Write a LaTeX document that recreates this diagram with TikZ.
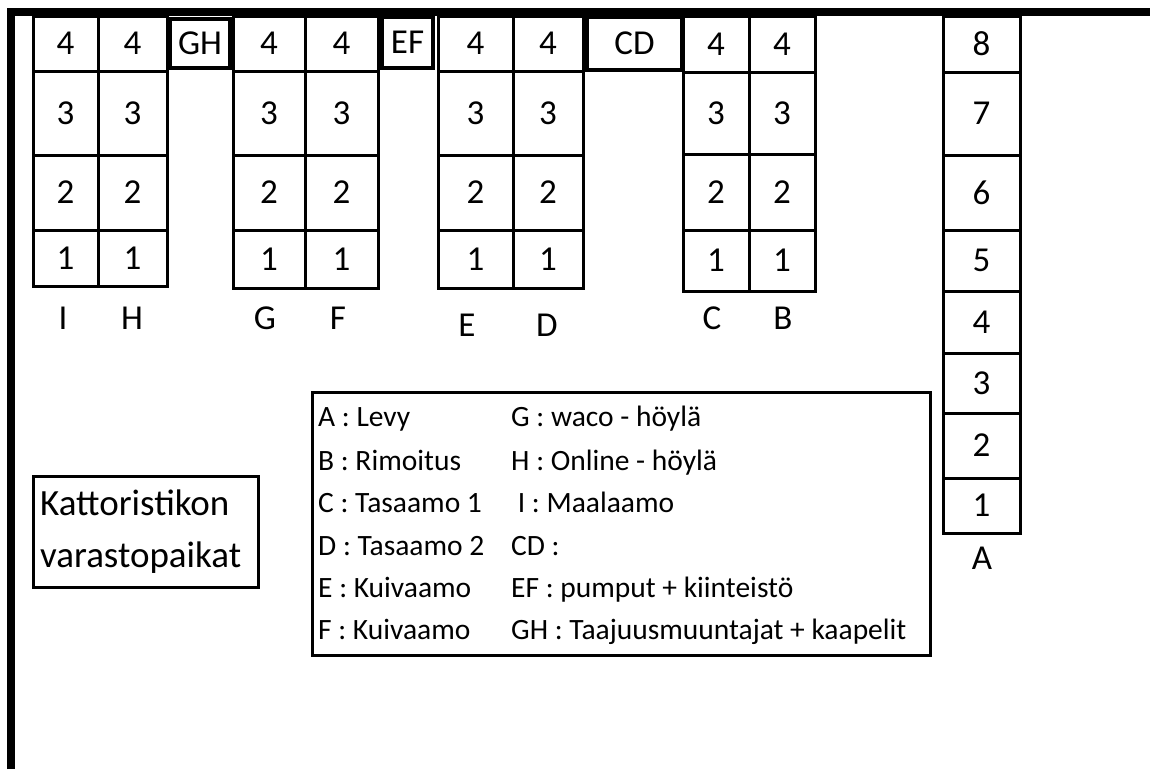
\documentclass[tikz,border=0pt]{standalone}
\usepackage{fontspec}
\setmainfont{Carlito}
\newcommand\cellbox[6]{\node[cell,minimum width={#4-#2},minimum height={#5-#3}] (#1) at ({(#2+#4)/2},{(#3+#5)/2}) {#6};}
\newcommand\tagbox[6]{\node[tagb,minimum width={#4-#2},minimum height={#5-#3}] (#1) at ({(#2+#4)/2},{(#3+#5)/2}) {#6};}
\tikzset{
  cell/.style={draw, line width=3pt, inner sep=0pt, font=\fontsize{35}{40}\selectfont},
  tagb/.style={draw, line width=4pt, inner sep=0pt, font=\fontsize{35}{40}\selectfont},
  collabel/.style={inner sep=0pt, text height=22.1pt, text depth=0pt, font=\fontsize{35}{40}\selectfont},
  legtext/.style={anchor=west, inner sep=0pt, text height=18.6pt, text depth=0pt, font=\fontsize{29.5}{34}\selectfont},
}
\begin{document}
\begin{tikzpicture}[x=1pt,y=-1pt]
\useasboundingbox (0,0) rectangle (1150,769);
% walls
\coordinate (wallbottom) at (11,769);
\coordinate (wallcorner) at (11,12);
\coordinate (wallright) at (1150,12);
\draw[line width=8.5pt] (wallbottom) -- (wallcorner) -- (wallright);
% I H
\cellbox{I4}{33}{16}{98}{71}{4}\cellbox{H4}{98}{16}{167}{71}{4}
\cellbox{I3}{33}{71}{98}{155}{3}\cellbox{H3}{98}{71}{167}{155}{3}
\cellbox{I2}{33}{155}{98}{230}{2}\cellbox{H2}{98}{155}{167}{230}{2}
\cellbox{I1}{33}{230}{98}{286}{1}\cellbox{H1}{98}{230}{167}{286}{1}
% G F
\cellbox{G4}{233}{16}{305}{71}{4}\cellbox{F4}{305}{16}{378}{71}{4}
\cellbox{G3}{233}{71}{305}{155}{3}\cellbox{F3}{305}{71}{378}{155}{3}
\cellbox{G2}{233}{155}{305}{230}{2}\cellbox{F2}{305}{155}{378}{230}{2}
\cellbox{G1}{233}{230}{305}{288}{1}\cellbox{F1}{305}{230}{378}{288}{1}
% E D
\cellbox{E4}{438}{16}{513}{71}{4}\cellbox{D4}{513}{16}{583}{71}{4}
\cellbox{E3}{438}{71}{513}{155}{3}\cellbox{D3}{513}{71}{583}{155}{3}
\cellbox{E2}{438}{155}{513}{230}{2}\cellbox{D2}{513}{155}{583}{230}{2}
\cellbox{E1}{438}{230}{513}{288}{1}\cellbox{D1}{513}{230}{583}{288}{1}
% C B
\cellbox{C4}{683}{16}{749}{72}{4}\cellbox{B4}{749}{16}{815}{72}{4}
\cellbox{C3}{683}{72}{749}{154}{3}\cellbox{B3}{749}{72}{815}{154}{3}
\cellbox{C2}{683}{154}{749}{230}{2}\cellbox{B2}{749}{154}{815}{230}{2}
\cellbox{C1}{683}{230}{749}{291}{1}\cellbox{B1}{749}{230}{815}{291}{1}
% A
\cellbox{A8}{943}{16}{1020}{72}{8}
\cellbox{A7}{943}{72}{1020}{155}{7}
\cellbox{A6}{943}{155}{1020}{230}{6}
\cellbox{A5}{943}{230}{1020}{291}{5}
\cellbox{A4}{943}{291}{1020}{353}{4}
\cellbox{A3}{943}{353}{1020}{413}{3}
\cellbox{A2}{943}{413}{1020}{478}{2}
\cellbox{A1}{943}{478}{1020}{533}{1}
% tag boxes
\tagbox{GH}{170}{19}{230}{68}{GH}
\tagbox{EF}{382}{17}{433}{68}{EF}
\tagbox{CD}{587}{17}{682}{70}{CD}
% column labels
\node[collabel] (lI) at (63,318) {I};
\node[collabel] (lH) at (132,318) {H};
\node[collabel] (lG) at (265,318) {G};
\node[collabel] (lF) at (338,318) {F};
\node[collabel] (lE) at (467,325) {E};
\node[collabel] (lD) at (547,325) {D};
\node[collabel] (lC) at (712,318) {C};
\node[collabel] (lB) at (783,318) {B};
\node[collabel] (lA) at (982,558) {A};
% legend
\node[draw, line width=3pt, minimum width=618, minimum height=263, inner sep=0pt] (legend) at (621,523.5) {};
\node[legtext] (la) at (318,417) {A : Levy};
\node[legtext] (lb) at (318,461) {B : Rimoitus};
\node[legtext] (lc) at (318,503) {C : Tasaamo 1};
\node[legtext] (ld) at (318,546) {D : Tasaamo 2};
\node[legtext] (le) at (318,588) {E : Kuivaamo};
\node[legtext] (lf) at (318,630) {F : Kuivaamo};
\node[legtext] (lg) at (511,417) {G : waco - höylä};
\node[legtext] (lh) at (511,461) {H : Online - höylä};
\node[legtext] (li) at (511,503) {\ I : Maalaamo};
\node[legtext] (lcd) at (511,546) {CD :};
\node[legtext] (lef) at (511,588) {EF : pumput + kiinteistö};
\node[legtext] (lgh) at (511,630) {GH : Taajuusmuuntajat + kaapelit};
% title
\node[draw, line width=3pt, minimum width=225, minimum height=111, inner sep=0pt] (titlebox) at (145.5,531.5) {};
\node[anchor=west, inner sep=0pt, align=left, font=\fontsize{37}{52}\selectfont] (title) at (40,531.5) {Kattoristikon\\varastopaikat};
\end{tikzpicture}
\end{document}
